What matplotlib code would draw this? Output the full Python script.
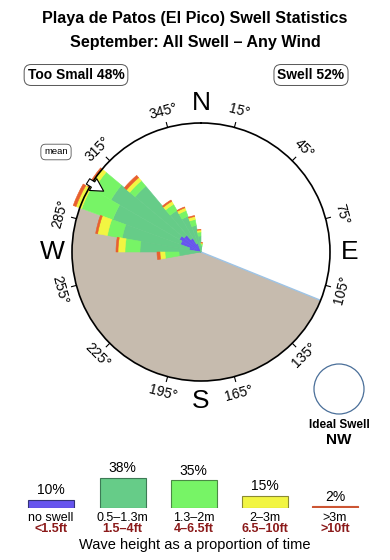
import numpy as np
import matplotlib
matplotlib.use("Agg")
import matplotlib.pyplot as plt

plt.rcParams["font.family"] = ["Liberation Sans", "DejaVu Sans"]

# direction bins (start bearing, 10 deg wide)
bin_start = [260, 270, 280, 290, 300, 310, 320, 330, 340, 350, 0]
# cumulative radius of each height class per bin (circle edge = 129)
r_noswell = [0, 0, 12, 22, 25, 22, 16, 9, 0, 0, 0]
r_small = [22, 61, 80, 94, 104, 86, 48, 38, 27, 16, 6]
r_mid = [36, 76, 95, 127, 124, 93, 55, 44, 33, 20, 8]
r_big = [41, 83, 105, 133, 129, 97, 58.5, 47, 36, 22, 9]
r_huge = [44, 85, 107, 136, 131, 100, 60, 48, 37, 22.5, 9.5]

legend_pct = [10, 38, 35, 15, 2]
legend_m = ["no swell", "0.5\u20131.3m", "1.3\u20132m", "2\u20133m", ">3m"]
legend_ft = ["<1.5ft", "1.5\u20134ft", "4\u20136.5ft", "6.5\u201310ft", ">10ft"]
colors = ["#6655ee", "#66cc88", "#77f466", "#f2f542", "#e8602e"]

tick_deg = [15, 45, 75, 105, 135, 165, 195, 225, 255, 285, 315, 345]
shadow_from, shadow_to = 112, 290
mean_dir = 302

W, H = 390, 560
fig = plt.figure(figsize=(W / 100, H / 100), dpi=100)

def fx(x):
    return x / W

def fy(y):
    return 1 - y / H

cx, cy, R = 201, 252, 129
ax = fig.add_axes([fx(cx - R), fy(cy + R), 2 * R / W, 2 * R / H], projection="polar")
ax.set_theta_zero_location("N")
ax.set_theta_direction(-1)
ax.set_rlim(0, R)
ax.grid(False)
ax.set_xticks([])
ax.set_yticks([])
ax.patch.set_alpha(0)
ax.spines["polar"].set_linewidth(1.2)
ax.spines["polar"].set_zorder(5)

# shadowed sector
ax.bar(np.deg2rad((shadow_from + shadow_to) / 2), R, width=np.deg2rad(shadow_to - shadow_from),
       bottom=0, color="#c6bbae", edgecolor="none", zorder=1)
ax.plot([np.deg2rad(shadow_from)] * 2, [0, R], color="#9ec4e6", lw=1, zorder=1.5)

# stacked rose
theta = np.deg2rad(np.array(bin_start) + 5)
layers = [r_noswell, r_small, r_mid, r_big, r_huge]
prev = np.zeros(len(bin_start))
for radii, c in zip(layers, colors):
    radii = np.array(radii, dtype=float)
    ax.bar(theta, radii - prev, width=np.deg2rad(10), bottom=prev, color=c,
           edgecolor=c, lw=0.4, zorder=2, clip_on=False)
    prev = np.maximum(prev, radii)

# ticks and degree labels
for d in tick_deg:
    t = np.deg2rad(d)
    ax.plot([t, t], [R, R + 5], color="black", lw=0.8, clip_on=False, zorder=5)
    rot = (-d) % 360
    if 90 < rot < 270:
        rot -= 180
    ax.text(t, R + 17, f"{d}\u00b0", rotation=rot, ha="center", va="center",
            fontsize=10, clip_on=False, rotation_mode="anchor")

for lab, d in zip(["N", "E", "S", "W"], [0, 90, 180, 270]):
    ax.text(np.deg2rad(d), R + 20, lab, ha="center", va="center", fontsize=19,
            clip_on=False)

# mean direction arrow
ax.annotate("", xy=(np.deg2rad(mean_dir), 112), xytext=(np.deg2rad(mean_dir), 136),
            arrowprops=dict(arrowstyle="simple,head_length=0.9,head_width=1.0,tail_width=0.45",
                            fc="white", ec="black", lw=0.8), zorder=6)

# titles and boxes
fig.text(fx(195), fy(19), "Playa de Patos (El Pico) Swell Statistics", ha="center",
         va="center", fontsize=11.6, fontweight="bold")
fig.text(fx(195), fy(42), "September: All Swell \u2013 Any Wind", ha="center",
         va="center", fontsize=11.6, fontweight="bold")
box = dict(boxstyle="round,pad=0.25,rounding_size=0.5", fc="white", ec="#555555", lw=0.7)
fig.text(fx(76), fy(75), "Too Small 48%", ha="center", va="center", fontsize=10,
         fontweight="bold", bbox=box)
fig.text(fx(311), fy(75), "Swell 52%", ha="center", va="center", fontsize=10,
         fontweight="bold", bbox=box)
fig.text(fx(56), fy(152), "mean", ha="center", va="center", fontsize=6.8,
         bbox=dict(boxstyle="round,pad=0.35,rounding_size=0.5", fc="white", ec="#555555", lw=0.6))

# ideal swell
ax2 = fig.add_axes([0, 0, 1, 1])
ax2.set_xlim(0, W)
ax2.set_ylim(H, 0)
ax2.axis("off")
ax2.patch.set_alpha(0)
ax2.add_patch(plt.Circle((339, 389), 25, fc="white", ec="#4a6f99", lw=0.9))
ax2.text(339, 425, "Ideal Swell", ha="center", va="center", fontsize=8.5, fontweight="bold")
ax2.text(339, 440, "NW", ha="center", va="center", fontsize=11, fontweight="bold")

# legend bars
px_per_pct = 0.79
leg = fig.add_axes([0, fy(508), 1, 40 / H])
leg.set_xlim(0, W)
leg.set_ylim(0, 40 / px_per_pct)
leg.axis("off")
xs = [51, 122.5, 193.5, 264.5, 335]
edges = ["#333377", "#3d7a55", "#4a8a44", "#8a8a33", "#cc5533"]
for i, (x, p) in enumerate(zip(xs, legend_pct)):
    c = "#cc5533" if i == 4 else colors[i]
    leg.bar(x, p, width=46, color=c, edgecolor=edges[i], lw=0.8)
    leg.text(x, p + 3.5, f"{p}%", ha="center", va="bottom", fontsize=10)
    ax2.text(x, 518, legend_m[i], ha="center", va="center", fontsize=9)
    ax2.text(x, 529, legend_ft[i], ha="center", va="center", fontsize=9,
             fontweight="bold", color="#8b1a1a")
ax2.text(195, 545, "Wave height as a proportion of time", ha="center", va="center",
         fontsize=10.5)

fig.savefig("out.png", dpi=100)
